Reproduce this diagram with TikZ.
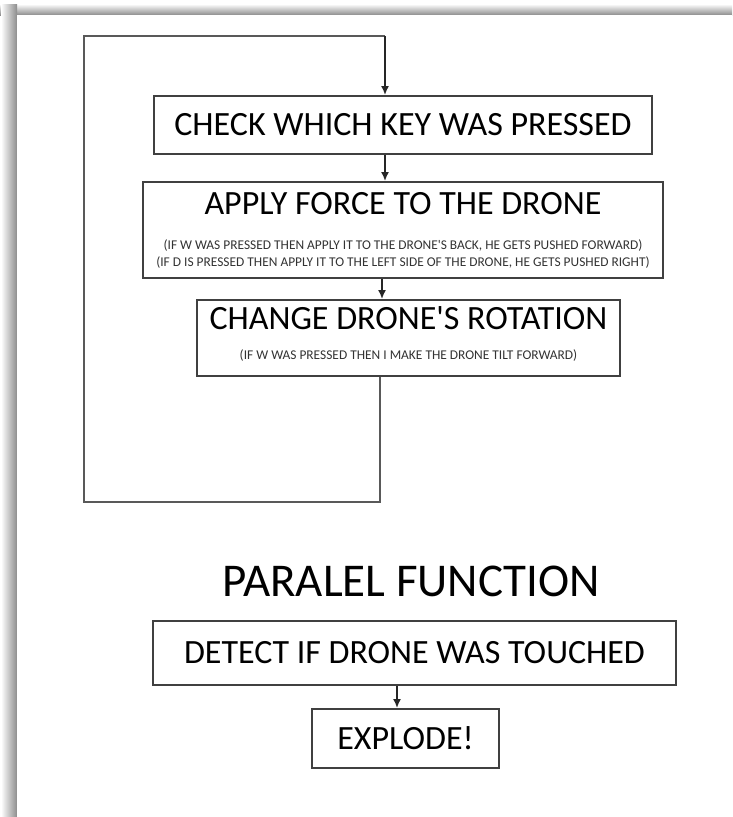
\documentclass[tikz,border=0pt]{standalone}
\usepackage{fontspec}
\setmainfont{Carlito}[Ligatures=TeXOff]
\usepackage{tikz}
\usetikzlibrary{arrows.meta}
\tikzset{>={Latex[length=9pt,width=8pt]}}
\tikzset{
    stepbox/.style={draw=black!75, line width=2pt, rectangle, align=center,
    inner sep=0pt, font=\fontsize{34}{40}\selectfont},
    flow/.style={->, line width=1.6pt, black!85},
    loopline/.style={line width=2pt, black!65}
}
\newcommand{\notetext}[1]{{\fontsize{13.4}{17}\selectfont\color{black!80}#1}}

\begin{document}
\begin{tikzpicture}[x=1pt, y=-1pt]
    \useasboundingbox (0,0) rectangle (732,817);

    % page shadow
    \shade [top color=white, bottom color=black!45] (0,4) rectangle (732,15);
    \shade [left color=white, right color=black!45] (1,4) rectangle (17,817);
    \fill [white] (17,15) rectangle (732,817);

    \node [stepbox, minimum width=498, minimum height=58] (check) at (403,125)
    {CHECK WHICH KEY WAS PRESSED};

    \node [stepbox, minimum width=520, minimum height=96] (force) at (403,230)
    {APPLY FORCE TO THE DRONE\\[-5pt]
    \notetext{(IF W WAS PRESSED THEN APPLY IT TO THE DRONE'S BACK, HE GETS PUSHED FORWARD)}\\[-23pt]
    \notetext{(IF D IS PRESSED THEN APPLY IT TO THE LEFT SIDE OF THE DRONE, HE GETS PUSHED RIGHT)}};

    \node [stepbox, minimum width=423, minimum height=76] (rotation) at (408.5,338)
    {CHANGE DRONE'S ROTATION\\[-10pt]
    \notetext{(IF W WAS PRESSED THEN I MAKE THE DRONE TILT FORWARD)}\\[-42pt]\strut};

    \coordinate (a1) at (385,0);
    \coordinate (a2) at (382,0);
    \coordinate (a3) at (397,0);

    \draw [flow] (check.south -| a1) -- (force.north -| a1);
    \draw [flow] (force.south -| a2) -- (rotation.north -| a2);

    % loop back to the top
    \coordinate (l1) at (380,502);
    \coordinate (l2) at (84,502);
    \coordinate (l3) at (84,36);
    \coordinate (l4) at (385,36);

    \draw [loopline] (rotation.south -| l1) -- (l1) -- (l2) -- (l3) -- (l4);
    \draw [flow] (l4) -- (check.north -| l4);

    \node [font=\fontsize{47}{52}\selectfont] (parallel) at (411,581.5)
    {PARALEL FUNCTION};

    \node [stepbox, minimum width=523, minimum height=64] (detect) at (414.5,653)
    {DETECT IF DRONE WAS TOUCHED};

    \node [stepbox, minimum width=187, minimum height=59] (explode) at (405.5,738.5)
    {EXPLODE!};

    \draw [flow] (detect.south -| a3) -- (explode.north -| a3);
\end{tikzpicture}
\end{document}
